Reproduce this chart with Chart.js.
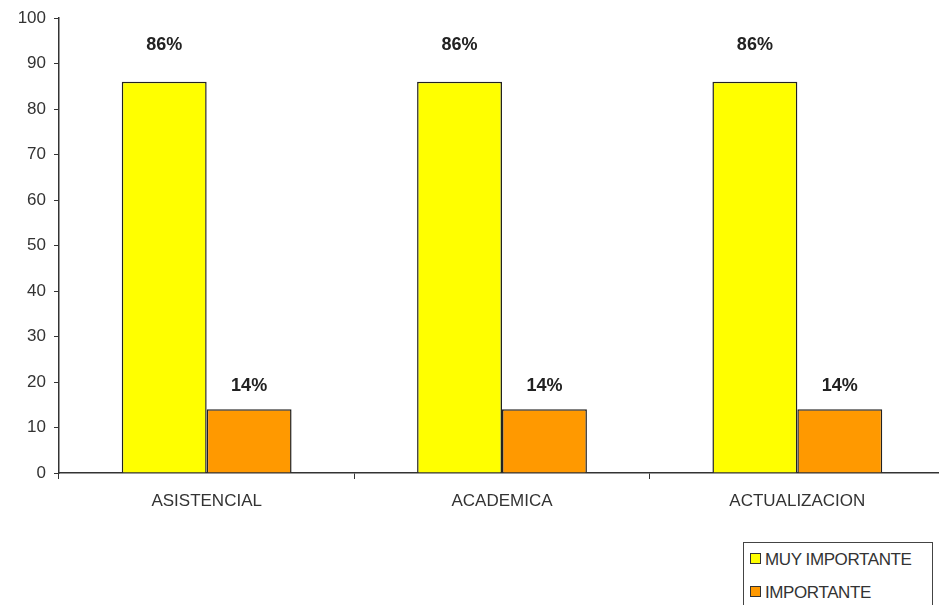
<!DOCTYPE html>
<html>
<head>
<meta charset="utf-8">
<script src="https://cdn.jsdelivr.net/npm/chart.js@4/dist/chart.umd.min.js"></script>
<style>
  html, body { margin: 0; padding: 0; background: #fff; overflow: hidden; }
  #wrap { position: relative; width: 945px; height: 605px; }
  #legend {
    position: absolute; left: 743px; top: 542px; width: 190px; height: 70px;
    border: 1px solid #444; box-sizing: border-box; background: #fff;
    font: 17px "Liberation Sans", Arial, sans-serif; color: #333; letter-spacing: -0.4px;
  }
  #legend div { position: absolute; left: 6px; white-space: nowrap; line-height: 18px; }
  #legend span {
    display: inline-block; width: 9px; height: 9px; border: 1px solid #333;
    margin-right: 4px; vertical-align: 1px;
  }
</style>
</head>
<body>
<div id="wrap">
  <canvas id="chart" width="945" height="605"></canvas>
  <div id="legend"></div>
</div>
<script>
// Data
const categories = ['ASISTENCIAL', 'ACADEMICA', 'ACTUALIZACION'];
const seriesNames = ['MUY IMPORTANTE', 'IMPORTANTE'];
const muyImportante = [86, 86, 86];
const importante = [14, 14, 14];
const pctLabels = [['86%', '86%', '86%'], ['14%', '14%', '14%']];

const colors = ['#FFFF00', '#FF9900'];
const labelOffset = [37, 23];
const fontFamily = '"Liberation Sans", Arial, sans-serif';

// Percent labels above bars
const barLabels = {
    id: 'barLabels',
    afterDatasetsDraw(chart) {
        const ctx = chart.ctx;
        ctx.save();
        ctx.font = 'bold 18px ' + fontFamily;
        ctx.fillStyle = '#222';
        ctx.textAlign = 'center';
        ctx.textBaseline = 'middle';
        chart.data.datasets.forEach((ds, i) => {
            chart.getDatasetMeta(i).data.forEach((bar, j) => {
                ctx.fillText(pctLabels[i][j], bar.x, bar.y - labelOffset[i]);
            });
        });
        ctx.restore();
    }
};

const ctx = document.getElementById('chart').getContext('2d');
const chart = new Chart(ctx, {
    type: 'bar',
    data: {
        labels: categories,
        datasets: [
            {
                label: seriesNames[0],
                data: muyImportante,
                backgroundColor: colors[0],
                borderColor: '#222',
                borderWidth: 1.5
            },
            {
                label: seriesNames[1],
                data: importante,
                backgroundColor: colors[1],
                borderColor: '#222',
                borderWidth: 1.5
            }
        ]
    },
    options: {
        responsive: false,
        animation: false,
        layout: { padding: { top: 18, right: 0, left: 0, bottom: 0 } },
        datasets: {
            bar: { categoryPercentage: 0.575, barPercentage: 1 }
        },
        plugins: {
            legend: { display: false },
            tooltip: { enabled: false }
        },
        scales: {
            x: {
                offset: true,
                grid: {
                    offset: true,
                    drawOnChartArea: false,
                    drawTicks: true,
                    tickLength: 6,
                    color: '#333'
                },
                border: { color: '#333', width: 1.5 },
                ticks: {
                    padding: 12,
                    color: '#333',
                    font: { family: fontFamily, size: 17 }
                },
                afterFit(axis) { axis.height = 132; }
            },
            y: {
                min: 0,
                max: 100,
                ticks: {
                    stepSize: 10,
                    padding: 8,
                    color: '#333',
                    font: { family: fontFamily, size: 17 }
                },
                grid: {
                    drawOnChartArea: false,
                    drawTicks: true,
                    tickLength: 5,
                    color: '#333'
                },
                border: { color: '#333', width: 1.5 },
                afterFit(axis) { axis.width = 59; }
            }
        }
    },
    plugins: [barLabels]
});

// Legend box
const legend = document.getElementById('legend');
seriesNames.forEach((name, i) => {
    const item = document.createElement('div');
    item.style.top = (i === 0 ? 8 : 41) + 'px';
    item.innerHTML = '<span style="background:' + colors[i] + '"></span>' + name;
    legend.appendChild(item);
});
</script>
</body>
</html>
